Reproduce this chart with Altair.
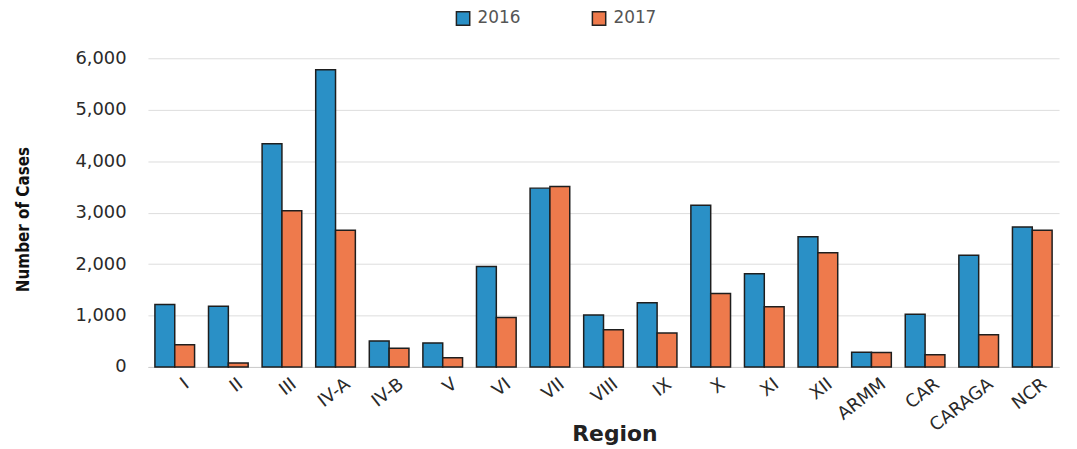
import altair as alt
import pandas as pd

regions = ["I", "II", "III", "IV-A", "IV-B", "V", "VI", "VII", "VIII", "IX",
           "X", "XI", "XII", "ARMM", "CAR", "CARAGA", "NCR"]
cases_2016 = [1216, 1178, 4340, 5775, 506, 467, 1953, 3476, 1011, 1248,
              3143, 1812, 2529, 288, 1024, 2170, 2721]
cases_2017 = [430, 77, 3035, 2657, 365, 180, 960, 3508, 723, 659,
              1428, 1172, 2221, 282, 237, 627, 2657]
years = ["2016", "2017"]

rows = []
for r, a, b in zip(regions, cases_2016, cases_2017):
    rows.append({"Region": r, "Year": years[0], "Cases": a})
    rows.append({"Region": r, "Year": years[1], "Cases": b})
df = pd.DataFrame(rows)

chart = alt.Chart(df).mark_bar(stroke="#1e1e1e", strokeWidth=1.5).encode(
    x=alt.X("Region:N", sort=regions,
            scale=alt.Scale(paddingInner=0.26, paddingOuter=0.13),
            axis=alt.Axis(title="Region", labelAngle=-38, labelAlign="right",
                          labelBaseline="top", labelPadding=8, labelOffset=7,
                          labelFontSize=18, labelColor="#2a2a2a", labelFont="DejaVu Sans",
                          ticks=False, domain=True, domainColor="#cccccc",
                          titleFont="DejaVu Sans", titleFontSize=22, titleFontWeight="bold",
                          titleColor="#222222", titleX=470, titleY=67,
                          titleBaseline="middle", titleAlign="center")),
    xOffset=alt.XOffset("Year:N", sort=years),
    y=alt.Y("Cases:Q", scale=alt.Scale(domain=[0, 6000]),
            axis=alt.Axis(title="Number of Cases", values=[0, 1000, 2000, 3000, 4000, 5000, 6000],
                          format=",.0f", labelFontSize=18, labelColor="#2a2a2a",
                          labelFont="DejaVu Sans", labelPadding=22, ticks=False, domain=False,
                          gridColor="#dddddd", gridWidth=1,
                          titleFont="DejaVu Sans Condensed, Liberation Sans Narrow, Liberation Sans",
                          titleFontSize=17,
                          titleFontWeight="bold", titleColor="#111111",
                          titleX=-125, titleY=162, titleAlign="center",
                          titleBaseline="middle")),
    color=alt.Color("Year:N", sort=years,
                    scale=alt.Scale(domain=years, range=["#2a90c6", "#ee7a4c"]),
                    legend=alt.Legend(title=None, orient="none", direction="horizontal",
                                      legendX=309, legendY=-49, symbolType="square",
                                      symbolSize=180, symbolStrokeColor="#222222",
                                      symbolStrokeWidth=1.5, labelFontSize=17,
                                      labelColor="#555555", labelFont="DejaVu Sans",
                                      columnPadding=68, labelOffset=6)),
).properties(
    width=918, height=311,
    autosize=alt.AutoSizeParams(type="none"),
    padding={"left": 141, "top": 49, "right": 10, "bottom": 80},
).configure_view(stroke=None)

chart.save("out.html", embed_options={"renderer": "svg", "actions": False})
